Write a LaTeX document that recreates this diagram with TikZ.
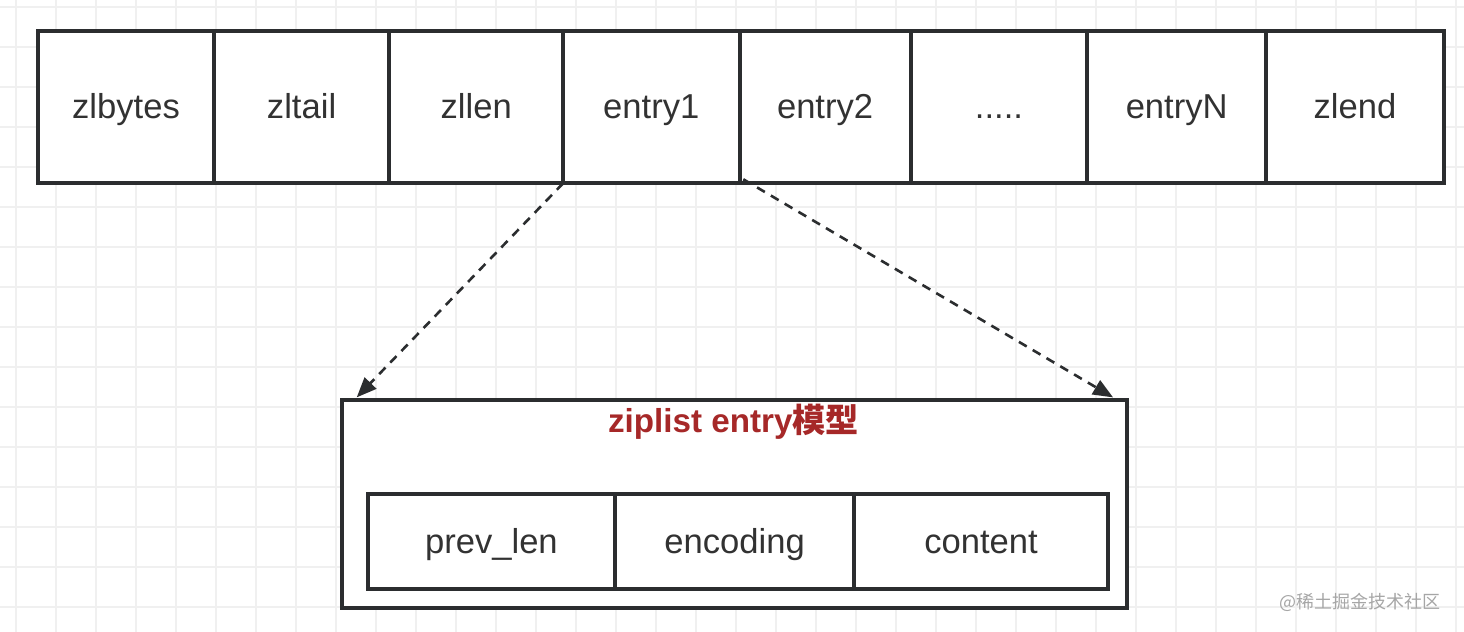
\documentclass[tikz,border=0pt]{standalone}
\usepackage{fontspec}
\setmainfont{Liberation Sans}
\newfontfamily\cjk{Noto Sans CJK SC}
\usetikzlibrary{arrows.meta}
\definecolor{boxline}{RGB}{43,45,47}
\definecolor{boxtext}{RGB}{50,50,50}
\definecolor{titlered}{RGB}{166,40,40}
\definecolor{gridline}{RGB}{240,240,240}
\tikzset{
  cell/.style={draw=boxline,line width=2pt,fill=white,inner sep=0pt,outer sep=0pt,
    minimum height=76.3pt,text=boxtext,text height=12.5pt,text depth=1.2pt,
    font=\fontsize{17.3}{20}\selectfont},
  subcell/.style={cell,minimum height=47.7pt},
  link/.style={draw=boxline,line width=1.3pt,dash pattern=on 4.5pt off 3.5pt,
    -{Triangle[length=10pt,width=8pt]}},
}
\begin{document}
\begin{tikzpicture}[x=0.5pt,y=-0.5pt]
\useasboundingbox (0,0) rectangle (1464,632);
\fill[white] (0,0) rectangle (1464,632);
% background grid
\foreach \gx in {16,56,...,1456}
  \draw[gridline,line width=1pt] (\gx,0) -- (\gx,632);
\foreach \gy in {6.7,46.7,...,630}
  \draw[gridline,line width=1pt] (0,\gy) -- (1464,\gy);

% ziplist
\node[cell,minimum width=88pt] (zlbytes) at (126,107) {zlbytes};
\node[cell,minimum width=87.7pt] (zltail) at (301.6,107) {zltail};
\node[cell,minimum width=86.9pt] (zllen) at (476.2,107) {zllen};
\node[cell,minimum width=88.2pt] (entry1) at (651.3,107) {entry1};
\node[cell,minimum width=85.6pt] (entry2) at (825.1,107) {entry2};
\node[cell,minimum width=88.3pt] (dots) at (999,107) {.....};
\node[cell,minimum width=89.3pt] (entryN) at (1176.7,107) {entryN};
\node[cell,minimum width=89pt] (zlend) at (1355,107) {zlend};

% entry model
\node[cell,minimum width=392.1pt,minimum height=104.2pt] (model) at (734.4,504.2) {};
\node[anchor=base,text=titlered,font=\fontsize{16.6}{20}\selectfont\bfseries]
  (title) at (733.5,432.7) {ziplist entry{\cjk\bfseries 模型}};
\node[subcell,minimum width=123.7pt] (prevlen) at (491.4,541.7) {prev\_len};
\node[subcell,minimum width=119.6pt] (encoding) at (734.6,541.7) {encoding};
\node[subcell,minimum width=126.8pt] (content) at (981,541.7) {content};

\draw[link] (entry1.south west) -- ([shift={(7.2pt,1.3pt)}]model.north west);
\draw[link] ([shift={(1.9pt,2pt)}]entry1.south east) -- ([shift={(-6.7pt,1.3pt)}]model.north east);

\node[anchor=east,text=gray!70,font=\cjk\fontsize{9}{11}\selectfont]
  (mark) at (1448,602) {@稀土掘金技术社区};
\end{tikzpicture}
\end{document}
